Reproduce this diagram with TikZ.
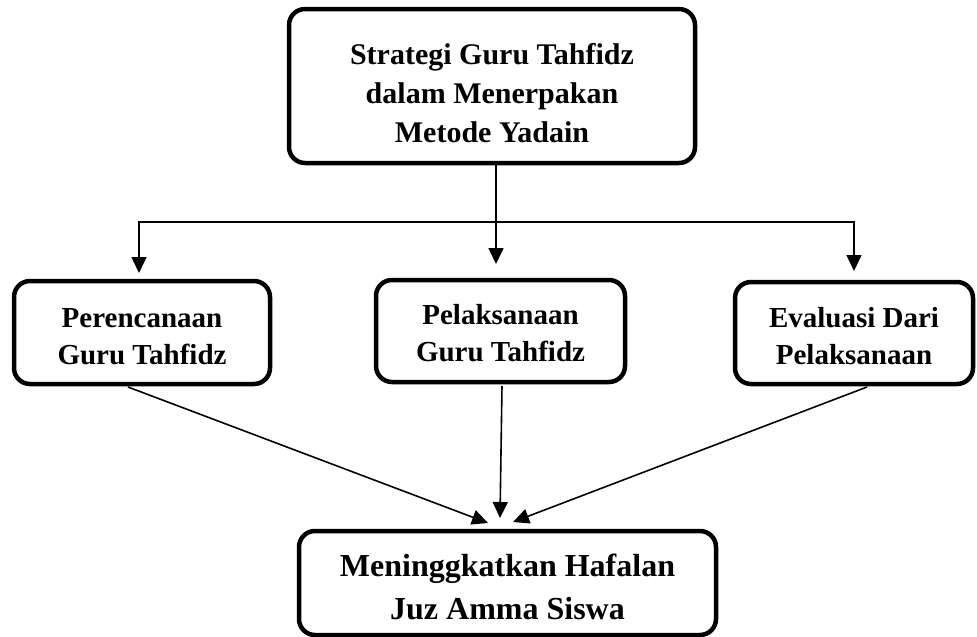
\documentclass[tikz,border=0pt]{standalone}
\usepackage{fontspec}
\setmainfont{Liberation Serif}
\usetikzlibrary{arrows.meta,calc}
\newcommand{\boxtext}[2]{\raisebox{#1}[0pt][0pt]{\begin{tabular}{@{}c@{}}#2\end{tabular}}}
\tikzset{
  box/.style={draw, line width=4.5pt, rounded corners=16pt, inner sep=0pt,
    font=\fontsize{29}{37}\selectfont\bfseries},
  arr/.style={line width=1.6pt, -{Triangle[width=15pt,length=16pt]}}
}
\begin{document}
\begin{tikzpicture}[x=1pt,y=-1pt]
\useasboundingbox (0,0) rectangle (977,637);
\node[box, minimum width=406pt, minimum height=154pt, font=\fontsize{30}{39}\selectfont\bfseries] (top) at (492,86)
  {\boxtext{-16pt}{Strategi Guru Tahfidz\\dalam Menerpakan\\Metode Yadain}};
\node[box, minimum width=256pt, minimum height=103pt] (left) at (142,332.5)
  {\boxtext{-12pt}{Perencanaan\\Guru Tahfidz}};
\node[box, minimum width=249pt, minimum height=102pt] (mid) at (500.5,331)
  {\boxtext{-11pt}{Pelaksanaan\\Guru Tahfidz}};
\node[box, minimum width=238pt, minimum height=102pt] (right) at (854,333)
  {\boxtext{-12pt}{Evaluasi Dari\\Pelaksanaan}};
\node[box, minimum width=417pt, minimum height=104pt, font=\fontsize{32}{43}\selectfont\bfseries] (bot) at (507.5,583)
  {\boxtext{-13pt}{Meninggkatkan Hafalan\\Juz Amma Siswa}};
\coordinate (j) at (496,222);
\coordinate (ltip) at (139,273);
\coordinate (mtip) at (496,264);
\coordinate (rtip) at (854,271);
\coordinate (ls) at (128,387);
\coordinate (ms) at (502,386);
\coordinate (rs) at (867,387);
\coordinate (b1) at (488,523);
\coordinate (b2) at (500,518);
\coordinate (b3) at (513,522);
\draw[arr] (top.south -| j) -- (mtip);
\draw[arr] (j) -| (ltip);
\draw[arr] (j) -| (rtip);
\draw[arr] (ls) -- (b1);
\draw[arr] (ms) -- (b2);
\draw[arr] (rs) -- (b3);
\end{tikzpicture}
\end{document}
